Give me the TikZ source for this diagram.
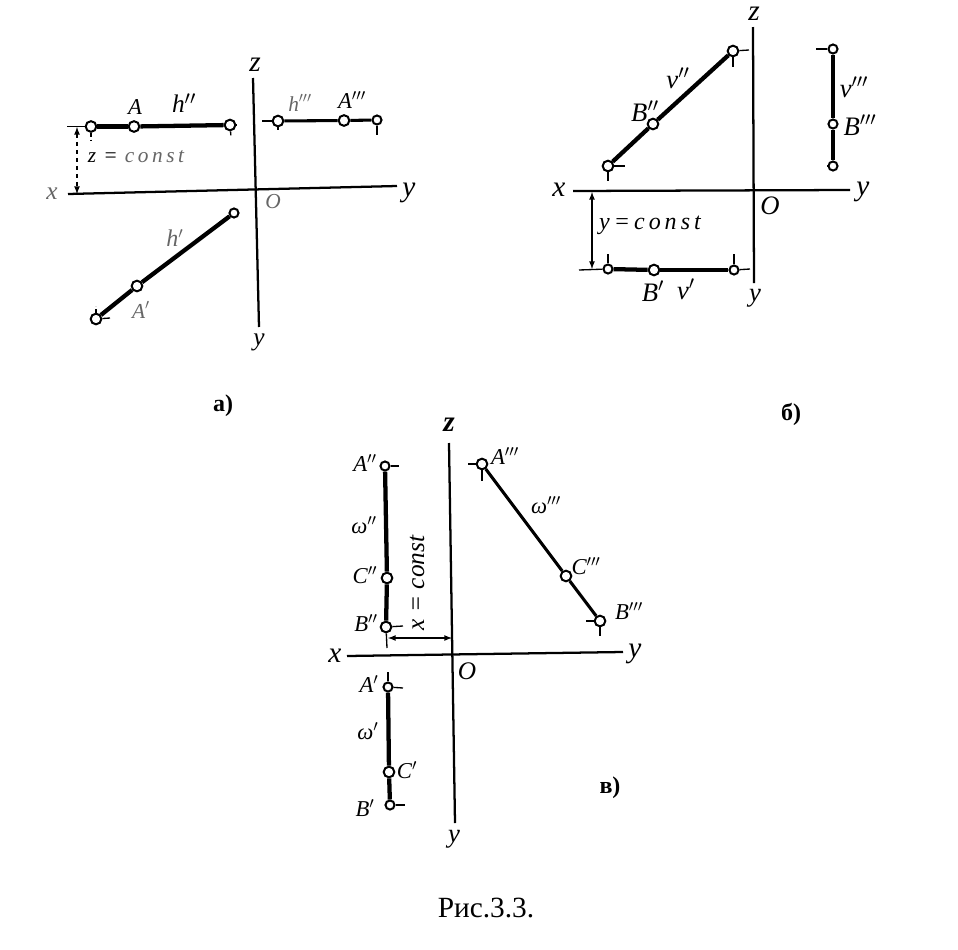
\documentclass[tikz,border=0pt]{standalone}
\usepackage{fontspec}
\setmainfont{Liberation Serif}
\begin{document}
\begin{tikzpicture}[x=0.75pt,y=-0.75pt,
  axisline/.style={line width=1.7pt,black},
  seg/.style={line width=3.2pt,black},
  segthin/.style={line width=2.3pt,black},
  tickline/.style={line width=1pt,black},
  ptnode/.style={circle,draw=black,fill=white,line width=1.5pt,inner sep=0pt,minimum size=8pt},
  smallpt/.style={ptnode,minimum size=6.8pt},
  lab/.style={inner sep=0pt,font=\fontsize{17}{17}\selectfont\itshape},
  labb/.style={inner sep=0pt,font=\fontsize{20}{20}\selectfont\itshape},
  biglab/.style={inner sep=0pt,font=\fontsize{22}{22}\selectfont\itshape},
  faint/.style={inner sep=0pt,text=black!60,font=\fontsize{16}{16}\selectfont\itshape},
  figcap/.style={inner sep=0pt,font=\fontsize{18}{18}\selectfont\bfseries},
  dimarrow/.style={line width=1pt,black,<->,>=latex}]
\useasboundingbox (0,0) rectangle (958,950);
\fill[white] (0,0) rectangle (958,950);

% ----- panel a
\coordinate (azt) at (253,78); \coordinate (azb) at (259,327);
\coordinate (axl) at (68,194); \coordinate (axr) at (397,186);
\draw[axisline] (azt) -- (azb);
\draw[axisline] (axl) -- (axr);
\node[ptnode] (a1) at (91,126.5) {};
\node[ptnode] (a2) at (134,126.5) {};
\node[ptnode] (a3) at (230,125) {};
\node[ptnode] (a4) at (278,121) {};
\node[ptnode] (a5) at (344,120.5) {};
\node[smallpt] (a6) at (377,120) {};
\node[ptnode] (a7) at (96,319) {};
\node[ptnode] (a8) at (137,286) {};
\node[smallpt] (a9) at (234,213) {};
\draw[seg] (a1) -- (a2);
\draw[seg] (a2) -- (a3);
\draw[segthin] (a4) -- (a5);
\draw[segthin] (a5) -- (a6);
\draw[seg] (a7) -- (a8);
\draw[seg] (a8) -- (a9);
\coordinate (adt) at (77,127); \coordinate (adb) at (77,194);
\draw[dimarrow,dashed] (adt) -- (adb);
\draw[tickline] (67,126.5) -- (a1);
\draw[tickline,densely dashed] (a1) -- (91,140);
\draw[tickline,densely dashed] (a3) -- (237,125);
\draw[tickline,densely dashed] (a3) -- (231,137);
\draw[tickline] (262,121) -- (a4);
\draw[tickline] (a4) -- (278,130);
\draw[tickline] (a6) -- (377,135);
\draw[tickline] (a7) -- (110,318);
\draw[tickline,densely dashed] (a7) -- (96,306);
\node[biglab] (tza) at (255,65) {z};
\node[biglab] (tya) at (409,193) {y};
\node[faint,font=\fontsize{19}{19}\selectfont\itshape] (txa) at (52,194) {x};
\node[faint] (toa) at (273,202) {O};
\node[biglab,font=\fontsize{19}{19}\selectfont\itshape] (tyb) at (259,342) {y};
\node[lab] (tA) at (135,107) {A};
\node[lab,font=\fontsize{19}{19}\selectfont\itshape] (th2) at (184,103) {h$^{\prime\prime}$};
\node[faint] (th3) at (300,103) {h$^{\prime\prime\prime}$};
\node[lab] (tA3) at (352,100) {A$^{\prime\prime\prime}$};
\node[faint] (tzc) at (136,157) {\textcolor{black}{z\,\,=}\,\,c\,o\,n\,s\,t};
\node[faint,font=\fontsize{18}{18}\selectfont\itshape] (th1) at (175,238) {h$^{\prime}$};
\node[faint] (tA1) at (141,310) {A$^{\prime}$};
\node[figcap] (tcapa) at (223,406) {а)};

% ----- panel b
\coordinate (bzt) at (753,27); \coordinate (bzb) at (754,283);
\coordinate (bxl) at (573,191); \coordinate (bxr) at (850,190);
\draw[axisline] (bzt) -- (bzb);
\draw[axisline] (bxl) -- (bxr);
\node[ptnode] (b1) at (608,166) {};
\node[ptnode] (b2) at (653,124) {};
\node[ptnode] (b3) at (733,51) {};
\node[smallpt] (b4) at (833,49) {};
\node[smallpt] (b5) at (833,124) {};
\node[smallpt] (b6) at (833,166) {};
\node[smallpt] (b7) at (608,269) {};
\node[ptnode] (b8) at (654,270) {};
\node[smallpt] (b9) at (734,270) {};
\draw[seg] (b1) -- (b2);
\draw[seg] (b2) -- (b3);
\draw[seg] (b4) -- (b5);
\draw[seg] (b5) -- (b6);
\draw[seg] (b7) -- (b8);
\draw[segthin] (b8) -- (b9);
\draw[tickline] (b1) -- (625,166);
\draw[tickline] (b1) -- (608,181);
\draw[tickline] (b3) -- (749,50);
\draw[tickline] (b3) -- (733,67);
\draw[tickline] (816,49) -- (b4);
\draw[tickline] (827,166) -- (b6);
\draw[tickline] (579,270) -- (b7);
\draw[tickline] (608,254) -- (b7);
\draw[tickline] (734,254) -- (b9);
\draw[tickline] (b9) -- (750,269);
\coordinate (bdt) at (592,192); \coordinate (bdb) at (592,269);
\draw[dimarrow] (bdt) -- (bdb);
\node[biglab] (tzb) at (754,14) {z};
\node[biglab] (tyc) at (863,192) {y};
\node[biglab] (txb) at (559,190) {x};
\node[labb] (tob) at (770,206) {O};
\node[biglab,font=\fontsize{20}{20}\selectfont\itshape] (tyd) at (755,298) {y};
\node[labb] (tv2) at (678,78) {v$^{\prime\prime}$};
\node[labb] (tB2) at (645,111) {B$^{\prime\prime}$};
\node[labb] (tv3) at (854,87) {v$^{\prime\prime\prime}$};
\node[labb] (tB3) at (860,125) {B$^{\prime\prime\prime}$};
\node[lab,font=\fontsize{18}{18}\selectfont\itshape] (tyc2) at (650,225) {y\,=\,c\,o\,n\,s\,t};
\node[labb] (tB1) at (653,291) {B$^{\prime}$};
\node[labb] (tv1) at (686,289) {v$^{\prime}$};
\node[figcap] (tcapb) at (791,414) {б)};

% ----- panel c
\coordinate (czt) at (449,443); \coordinate (czb) at (455,823);
\coordinate (cxl) at (347,656); \coordinate (cxr) at (623,652);
\draw[axisline] (czt) -- (czb);
\draw[axisline] (cxl) -- (cxr);
\node[smallpt] (c1) at (385,466) {};
\node[ptnode] (c2) at (387,578) {};
\node[ptnode] (c3) at (386,627) {};
\node[smallpt] (c4) at (388,687) {};
\node[ptnode] (c5) at (389,772) {};
\node[smallpt] (c6) at (390,805) {};
\node[ptnode] (c7) at (482,464) {};
\node[ptnode] (c8) at (566,576) {};
\node[ptnode] (c9) at (600,621) {};
\draw[seg] (c1) -- (c2);
\draw[seg] (c2) -- (c3);
\draw[seg] (c4) -- (c5);
\draw[seg] (c5) -- (c6);
\draw[segthin] (c7) -- (c8);
\draw[segthin] (c8) -- (c9);
\draw[tickline] (c1) -- (399,466);
\draw[tickline] (c3) -- (403,626);
\draw[tickline] (c3) -- (387,648);
\draw[tickline] (388,672) -- (c4);
\draw[tickline] (c4) -- (403,688);
\draw[tickline] (c6) -- (405,805);
\draw[tickline] (468,464) -- (c7);
\draw[tickline] (c7) -- (482,481);
\draw[tickline] (586,621) -- (c9);
\draw[tickline] (c9) -- (600,636);
\coordinate (cdl) at (388,638); \coordinate (cdr) at (452,638);
\draw[dimarrow] (cdl) -- (cdr);
\node[biglab,font=\fontsize{22}{22}\selectfont\bfseries\itshape] (tzc2) at (449,425) {z};
\node[biglab] (tyf) at (635,654) {y};
\node[biglab] (txc) at (335,656) {x};
\node[labb,font=\fontsize{19}{19}\selectfont\itshape] (toc) at (467,671) {O};
\node[biglab,font=\fontsize{20}{20}\selectfont\itshape] (tyg) at (454,839) {y};
\node[lab] (tcA2) at (365,463) {A$^{\prime\prime}$};
\node[lab] (tw2) at (364,525) {ω$^{\prime\prime}$};
\node[lab] (tcC2) at (365,575) {C$^{\prime\prime}$};
\node[lab] (tcB2) at (366,623) {B$^{\prime\prime}$};
\node[lab] (tcA1) at (369,684) {A$^{\prime}$};
\node[lab] (tw1) at (368,731) {ω$^{\prime}$};
\node[lab] (tcC1) at (407,770) {C$^{\prime}$};
\node[lab] (tcB1) at (365,808) {B$^{\prime}$};
\node[lab] (tcA3) at (505,456) {A$^{\prime\prime\prime}$};
\node[lab] (tw3) at (546,505) {ω$^{\prime\prime\prime}$};
\node[lab] (tcC3) at (586,566) {C$^{\prime\prime\prime}$};
\node[lab] (tcB3) at (629,611) {B$^{\prime\prime\prime}$};
\node[lab,rotate=90,font=\fontsize{19}{19}\selectfont\itshape] (txc2) at (417,583) {x = const};
\node[figcap] (tcapc) at (610,788) {в)};
\node[inner sep=0pt,font=\fontsize{22}{22}\selectfont] (tfig) at (486,908) {Рис.3.3.};
\end{tikzpicture}
\end{document}
